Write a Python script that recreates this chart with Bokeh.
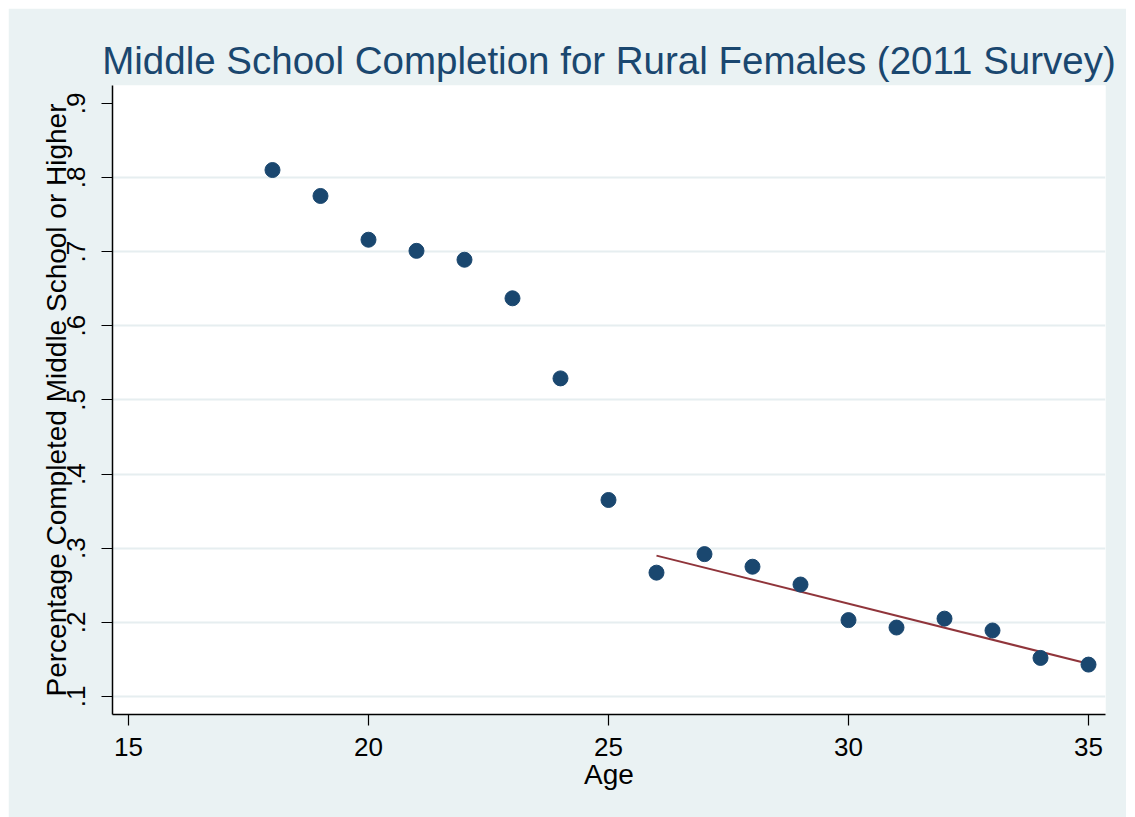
import numpy as np
from bokeh.plotting import figure
from bokeh.layouts import column, row
from bokeh.models import Range1d, FixedTicker, ColumnDataSource, Spacer
from bokeh.embed import file_html
from bokeh.resources import INLINE

# ---- data ----
ages = [18, 19, 20, 21, 22, 23, 24, 25, 26, 27, 28, 29, 30, 31, 32, 33, 34, 35]
share = [0.810, 0.775, 0.716, 0.701, 0.689, 0.637, 0.529, 0.365,
         0.267, 0.292, 0.275, 0.251, 0.203, 0.193, 0.205, 0.189, 0.152, 0.143]
fit_start_age = 26
x_ticks = [15, 20, 25, 30, 35]
y_ticks = [0.1, 0.2, 0.3, 0.4, 0.5, 0.6, 0.7, 0.8, 0.9]
y_tick_labels = [".1", ".2", ".3", ".4", ".5", ".6", ".7", ".8", ".9"]
title_text = "Middle School Completion for Rural Females (2011 Survey)"
x_title = "Age"
y_title = "Percentage Completed Middle School or Higher"

# linear fit over the later ages
fx = [a for a in ages if a >= fit_start_age]
fy = [s for a, s in zip(ages, share) if a >= fit_start_age]
slope, intercept = np.polyfit(fx, fy, 1)
fit_x = [fx[0], fx[-1]]
fit_y = [intercept + slope * v for v in fit_x]

FONT = "Liberation Sans"
BG = "#EAF2F3"
NAVY = "#1A476F"
MAROON = "#90353B"

p = figure(width=1118, height=809, output_backend="svg", toolbar_location=None,
           x_range=Range1d(14.667, 35.354), y_range=Range1d(0.0757, 0.924),
           min_border_left=104, min_border_right=21, min_border_top=77,
           min_border_bottom=103)
p.border_fill_color = BG
p.background_fill_color = "white"
p.outline_line_color = None

p.title.text = title_text
p.title.align = "center"
p.title.text_font = FONT
p.title.text_font_size = "38.5px"
p.title.text_font_style = "normal"
p.title.text_color = NAVY
p.title.standoff = 7
p.title.offset = -2

p.xgrid.visible = False
p.ygrid.ticker = FixedTicker(ticks=y_ticks[:-1])
p.ygrid.grid_line_color = "#E6EEF0"
p.ygrid.grid_line_width = 2

for ax in (p.xaxis[0], p.yaxis[0]):
    ax.axis_line_color = "black"
    ax.axis_line_width = 1.5
    ax.major_tick_line_color = "black"
    ax.major_tick_line_width = 1.2
    ax.major_tick_in = 0
    ax.major_tick_out = 11
    ax.minor_tick_line_color = None
    ax.major_label_text_font = FONT
    ax.major_label_text_font_size = "26px"
    ax.major_label_text_color = "black"
    ax.axis_label_text_font = FONT
    ax.axis_label_text_font_size = "28px"
    ax.axis_label_text_font_style = "normal"
    ax.axis_label_text_color = "black"

p.xaxis.ticker = FixedTicker(ticks=x_ticks)
p.xaxis.axis_label = x_title
p.xaxis.major_label_standoff = 12
p.xaxis.axis_label_standoff = 0

p.yaxis.ticker = FixedTicker(ticks=y_ticks)
p.yaxis.major_label_overrides = dict(zip(y_ticks, y_tick_labels))
p.yaxis.major_label_orientation = "vertical"
p.yaxis.axis_label = y_title
p.yaxis.major_label_standoff = 16
p.yaxis.axis_label_standoff = -7

p.line(fit_x, fit_y, line_color=MAROON, line_width=2)
src = ColumnDataSource(dict(age=ages, share=share))
p.scatter("age", "share", source=src, size=15, fill_color=NAVY, line_color=NAVY)

layout = column(Spacer(height=8), row(Spacer(width=8), p))
open("out.html", "w").write(file_html(layout, INLINE))
